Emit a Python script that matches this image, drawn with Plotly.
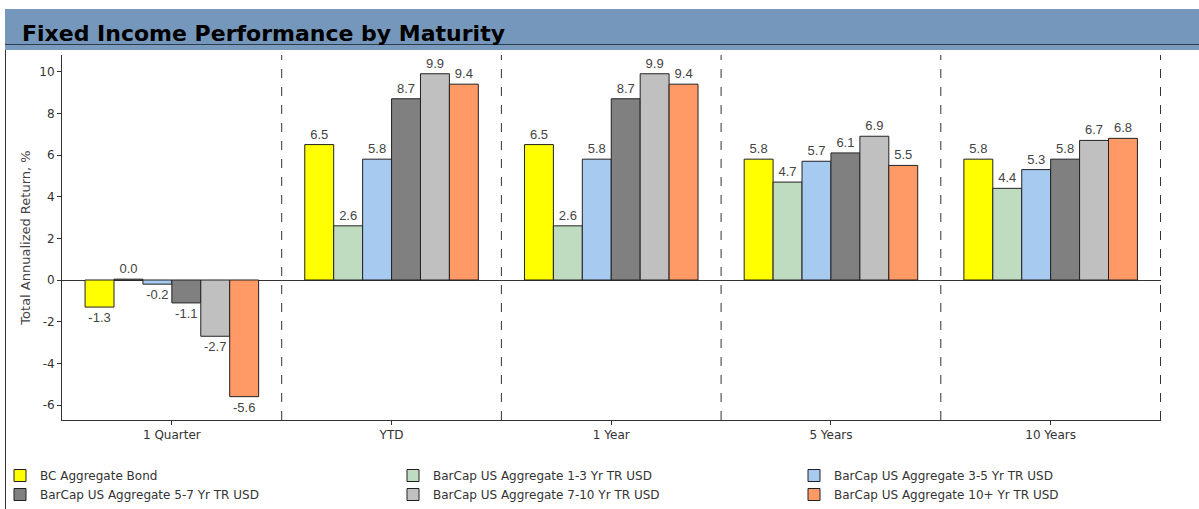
import plotly.graph_objects as go

# Periods shown on the x axis
periods = ["1 Quarter", "YTD", "1 Year", "5 Years", "10 Years"]

# Index names (legend order)
series_names = [
    "BC Aggregate Bond",
    "BarCap US Aggregate 1-3 Yr TR USD",
    "BarCap US Aggregate 3-5 Yr TR USD",
    "BarCap US Aggregate 5-7 Yr TR USD",
    "BarCap US Aggregate 7-10 Yr TR USD",
    "BarCap US Aggregate 10+ Yr TR USD",
]

# Total annualized return (%) per index, one value per period
bc_aggregate = [-1.3, 6.5, 6.5, 5.8, 5.8]
agg_1_3 = [0.04, 2.6, 2.6, 4.7, 4.4]
agg_3_5 = [-0.2, 5.8, 5.8, 5.7, 5.3]
agg_5_7 = [-1.1, 8.7, 8.7, 6.1, 5.8]
agg_7_10 = [-2.7, 9.9, 9.9, 6.9, 6.7]
agg_10_plus = [-5.6, 9.4, 9.4, 5.5, 6.8]

series_values = [bc_aggregate, agg_1_3, agg_3_5, agg_5_7, agg_7_10, agg_10_plus]
series_colors = ["#FFFF00", "#C0DCC0", "#A6CAF0", "#808080", "#C0C0C0", "#FF9966"]

y_ticks = [-6, -4, -2, 0, 2, 4, 6, 8, 10]
y_tick_labels = ["-6", "-4", "-2", "0", "2", "4", "6", "8", "10"]

W, H = 1199, 509
L, R, T, B = 62, 38, 55, 89
PW, PH = W - L - R, H - T - B


def px_x(px):
    return (px - L) / PW


def px_y(py):
    return (H - B - py) / PH


SANS = "DejaVu Sans, Verdana, sans-serif"
label_font = dict(family="Liberation Sans, Arial", size=13, color="#444444")
legend_font = dict(family=SANS, size=12, color="#333333")

# legend column for each series: three columns, two rows
legend_ids = ["legend", "legend2", "legend3", "legend", "legend2", "legend3"]

fig = go.Figure()
for name, vals, col, lg in zip(series_names, series_values, series_colors, legend_ids):
    fig.add_trace(go.Bar(
        name=name,
        x=periods,
        y=vals,
        legend=lg,
        marker=dict(color=col, line=dict(color="#222222", width=1)),
        texttemplate="%{y:.1f}",
        textposition="outside",
        textfont=label_font,
        cliponaxis=False,
    ))

shapes = []
# dashed separators between periods
for i in range(len(periods)):
    shapes.append(dict(type="line", xref="x", yref="paper", x0=i + 0.5, x1=i + 0.5,
                       y0=0, y1=1, line=dict(color="#333333", width=1, dash="dash")))
# header band
shapes.append(dict(type="rect", xref="paper", yref="paper", x0=px_x(5), x1=px_x(W + 2),
                   y0=px_y(50), y1=px_y(9), fillcolor="#7B9BBE", line=dict(width=0), layer="below"))
shapes.append(dict(type="rect", xref="paper", yref="paper", x0=px_x(5), x1=px_x(W + 2),
                   y0=px_y(44), y1=px_y(9), fillcolor="#7597BB", line=dict(width=0), layer="below"))
shapes.append(dict(type="line", xref="paper", yref="paper", x0=px_x(5), x1=px_x(W + 2),
                   y0=px_y(44.5), y1=px_y(44.5), line=dict(color="#2F3E4E", width=1)))
# left frame edge
shapes.append(dict(type="line", xref="paper", yref="paper", x0=px_x(5.5), x1=px_x(5.5),
                   y0=px_y(H + 2), y1=px_y(50), line=dict(color="#333333", width=1)))


def legend_box(left_px):
    return dict(orientation="v", x=px_x(left_px), y=px_y(461), xanchor="left", yanchor="top",
                tracegroupgap=0, font=legend_font, bgcolor="rgba(0,0,0,0)", borderwidth=0)


fig.update_layout(
    width=W, height=H,
    margin=dict(l=L, r=R, t=T, b=B, autoexpand=False),
    paper_bgcolor="white", plot_bgcolor="white",
    barmode="group", bargap=0.21, bargroupgap=0,
    font=dict(family=SANS, size=12, color="#333333"),
    shapes=shapes,
    annotations=[dict(text="<b>Fixed Income Performance by Maturity</b>", xref="paper", yref="paper",
                      x=px_x(20), y=px_y(34), xanchor="left", yanchor="middle", showarrow=False,
                      font=dict(family="DejaVu Sans, Verdana", size=22, color="#000000"))],
    showlegend=True,
    legend=legend_box(0),
    legend2=legend_box(393),
    legend3=legend_box(794),
    xaxis=dict(showline=True, linecolor="#333333", linewidth=1, ticks="outside", ticklen=4,
               tickcolor="#333333", showgrid=False, tickfont=dict(family=SANS, size=12, color="#333333")),
    yaxis=dict(range=[-6.72, 10.8], tickvals=y_ticks, ticktext=y_tick_labels,
               showline=True, linecolor="#333333", linewidth=1,
               ticks="outside", ticklen=4, tickcolor="#333333", showgrid=False,
               zeroline=True, zerolinecolor="#333333", zerolinewidth=1,
               tickfont=dict(family=SANS, size=12, color="#333333"),
               title=dict(text="Total Annualized Return, %", standoff=5,
                          font=dict(family=SANS, size=13, color="#444444"))),
)

fig.write_html("out.html")
